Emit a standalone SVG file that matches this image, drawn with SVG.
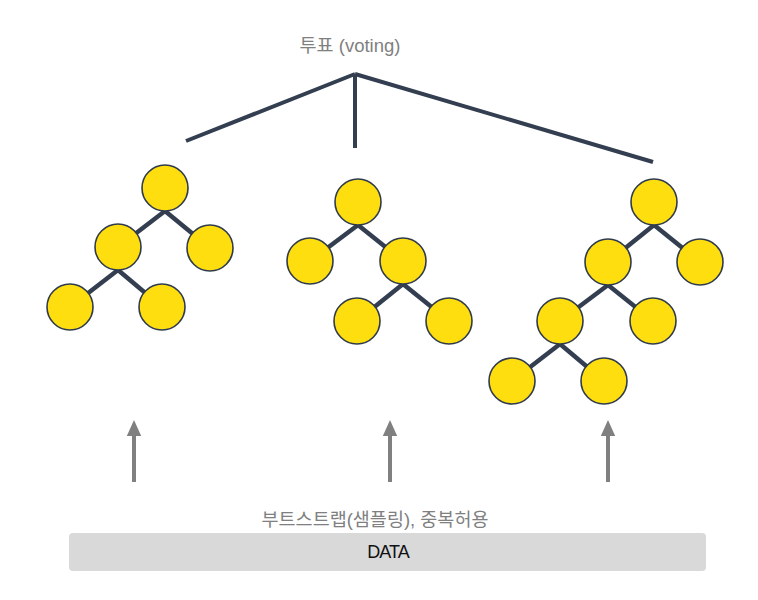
<svg xmlns="http://www.w3.org/2000/svg" width="758" height="600" viewBox="0 0 758 600">
<style>
.edge{stroke:#333f50;stroke-width:4.5;stroke-linecap:butt;fill:none}
.vote{stroke:#333f50;stroke-width:4;fill:none}
.node circle{fill:#ffde0f;stroke:#2f3b4c;stroke-width:1.6}
.arrow{stroke:#808080;stroke-width:4;fill:none}
.lbl{font-family:"Liberation Sans","Noto Sans CJK KR",sans-serif;font-size:18.5px;fill:#808080;text-anchor:middle}
.data{font-family:"Liberation Sans",sans-serif;font-size:18px;fill:#111;text-anchor:middle;letter-spacing:-0.9px}
</style>
<defs>
<marker id="ah" markerWidth="4" markerHeight="4" refX="2" refY="2" orient="auto" markerUnits="strokeWidth" viewBox="0 0 4 4">
<path d="M0,0.2 L4,2 L0,3.8 Z" fill="#808080"/>
</marker>
</defs>
<rect width="758" height="600" fill="#ffffff"/>
<g id="title"><text class="lbl" x="350" y="52">투표 (voting)</text></g>
<g id="connectors">
<line class="vote" x1="355" y1="74" x2="186" y2="141"/>
<line class="vote" x1="355" y1="74" x2="355" y2="148"/>
<line class="vote" x1="355" y1="74" x2="653" y2="162"/>
<line class="edge" x1="165" y1="211" x2="118" y2="247"/>
<line class="edge" x1="165" y1="211" x2="210" y2="248"/>
<line class="edge" x1="118" y1="270" x2="70" y2="307"/>
<line class="edge" x1="118" y1="270" x2="162" y2="307"/>
<line class="edge" x1="358" y1="225" x2="310" y2="261"/>
<line class="edge" x1="358" y1="225" x2="403" y2="261"/>
<line class="edge" x1="403" y1="284" x2="357" y2="321"/>
<line class="edge" x1="403" y1="284" x2="449" y2="321"/>
<line class="edge" x1="654" y1="225" x2="608" y2="262"/>
<line class="edge" x1="654" y1="225" x2="700" y2="262"/>
<line class="edge" x1="608" y1="285" x2="560" y2="321"/>
<line class="edge" x1="608" y1="285" x2="653" y2="321"/>
<line class="edge" x1="560" y1="344" x2="512" y2="381"/>
<line class="edge" x1="560" y1="344" x2="604" y2="381"/>
<line class="arrow" x1="134" y1="482" x2="134" y2="428" marker-end="url(#ah)"/>
<line class="arrow" x1="390" y1="482" x2="390" y2="428" marker-end="url(#ah)"/>
<line class="arrow" x1="608" y1="482" x2="608" y2="428" marker-end="url(#ah)"/>
</g>
<g id="tree1" class="node">
<circle cx="165" cy="188" r="23"/>
<circle cx="118" cy="247" r="23"/>
<circle cx="210" cy="248" r="23"/>
<circle cx="70" cy="307" r="23"/>
<circle cx="162" cy="307" r="23"/>
</g>
<g id="tree2" class="node">
<circle cx="358" cy="202" r="23"/>
<circle cx="310" cy="261" r="23"/>
<circle cx="403" cy="261" r="23"/>
<circle cx="357" cy="321" r="23"/>
<circle cx="449" cy="321" r="23"/>
</g>
<g id="tree3" class="node">
<circle cx="654" cy="202" r="23"/>
<circle cx="608" cy="262" r="23"/>
<circle cx="700" cy="262" r="23"/>
<circle cx="560" cy="321" r="23"/>
<circle cx="653" cy="321" r="23"/>
<circle cx="512" cy="381" r="23"/>
<circle cx="604" cy="381" r="23"/>
</g>
<g id="bootstrap"><text class="lbl" x="375" y="526">부트스트랩(샘플링), 중복허용</text></g>
<g id="data">
<rect x="69" y="533" width="637" height="38" rx="4" fill="#d9d9d9"/>
<text class="data" x="388" y="558">DATA</text>
</g>
</svg>
